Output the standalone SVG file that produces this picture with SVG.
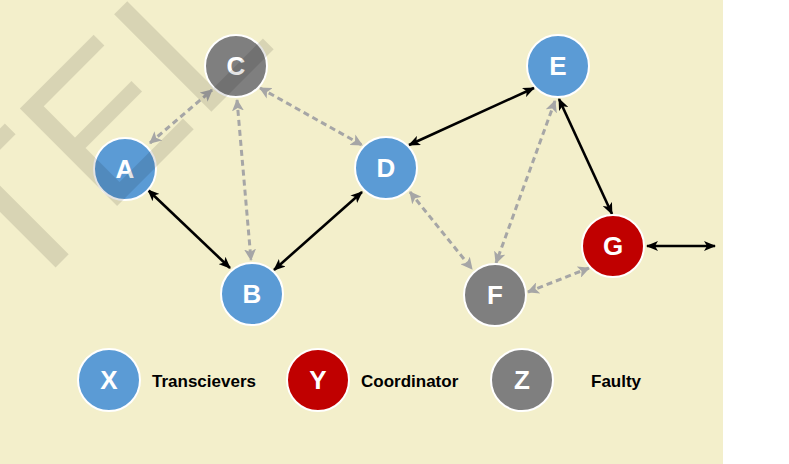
<svg xmlns="http://www.w3.org/2000/svg" width="789" height="464" viewBox="0 0 789 464">
<defs>
<style>
.node circle{stroke:#fff;stroke-width:2}
.blue{fill:#5B9BD5}
.red{fill:#C00000}
.gray{fill:#7F7F7F}
.lbl{font-family:"Liberation Sans",Arial,sans-serif;font-weight:bold;font-size:26px;fill:#fff;text-anchor:middle}
.leg{font-family:"Liberation Sans",Arial,sans-serif;font-weight:bold;font-size:17px;fill:#000}
.solid{stroke:#000;stroke-width:2.6;fill:none;marker-start:url(#hb);marker-end:url(#hb)}
.dash{stroke:#A6A6A6;stroke-width:3;fill:none;stroke-dasharray:6 4;marker-start:url(#hg);marker-end:url(#hg)}
</style>
<marker id="hb" viewBox="0 0 12 10" refX="11" refY="5" markerWidth="12" markerHeight="10" markerUnits="userSpaceOnUse" orient="auto-start-reverse"><path d="M0,0 L12,5 L0,10 L3,5 z" fill="#000"/></marker>
<marker id="hg" viewBox="0 0 12 12" refX="11" refY="6" markerWidth="12" markerHeight="12" markerUnits="userSpaceOnUse" orient="auto-start-reverse"><path d="M0,0 L12,6 L0,12 L3,6 z" fill="#A6A6A6"/></marker>
</defs>
<rect x="0" y="0" width="789" height="464" fill="#fff"/>
<rect x="0" y="0" width="723" height="464" fill="#F3EFCB"/>
<g id="connectors">
<line class="dash" x1="150" y1="143" x2="212" y2="90"/>
<line class="dash" x1="237" y1="100" x2="251" y2="260"/>
<line class="dash" x1="260" y1="88" x2="362" y2="145"/>
<line class="dash" x1="410" y1="192" x2="472" y2="269"/>
<line class="dash" x1="555" y1="101" x2="496" y2="263"/>
<line class="dash" x1="528" y1="292" x2="589" y2="268"/>
<line class="solid" x1="148" y1="190" x2="230" y2="268"/>
<line class="solid" x1="274" y1="270" x2="362" y2="192"/>
<line class="solid" x1="409" y1="145" x2="534" y2="88"/>
<line class="solid" x1="559" y1="99" x2="612" y2="214"/>
<line class="solid" x1="647" y1="246" x2="715" y2="246"/>
</g>
<g id="node-A" class="node"><circle class="blue" cx="125" cy="169" r="31"/><text class="lbl" x="125" y="178">A</text></g>
<g id="node-B" class="node"><circle class="blue" cx="252" cy="294" r="31"/><text class="lbl" x="252" y="303">B</text></g>
<g id="node-C" class="node"><circle class="gray" cx="236" cy="66" r="31"/><text class="lbl" x="236" y="75">C</text></g>
<g id="node-D" class="node"><circle class="blue" cx="386" cy="168" r="31"/><text class="lbl" x="386" y="177">D</text></g>
<g id="node-E" class="node"><circle class="blue" cx="558" cy="66" r="31"/><text class="lbl" x="558" y="75">E</text></g>
<g id="node-F" class="node"><circle class="gray" cx="495" cy="295" r="31"/><text class="lbl" x="495" y="304">F</text></g>
<g id="node-G" class="node"><circle class="red" cx="613" cy="246" r="31"/><text class="lbl" x="613" y="255">G</text></g>
<g id="legend-X" class="node"><circle class="blue" cx="109" cy="380" r="31"/><text class="lbl" x="109" y="389">X</text><text class="leg" x="152" y="387">Transcievers</text></g>
<g id="legend-Y" class="node"><circle class="red" cx="318" cy="380" r="31"/><text class="lbl" x="318" y="389">Y</text><text class="leg" x="361" y="387">Coordinator</text></g>
<g id="legend-Z" class="node"><circle class="gray" cx="522" cy="380" r="31"/><text class="lbl" x="522" y="389">Z</text><text class="leg" x="591" y="387">Faulty</text></g>
<text x="0" y="0" transform="translate(19,304) rotate(-45)" font-family="Liberation Sans,Arial,sans-serif" font-size="200" fill="#000" fill-opacity="0.11">TEL</text>
</svg>
